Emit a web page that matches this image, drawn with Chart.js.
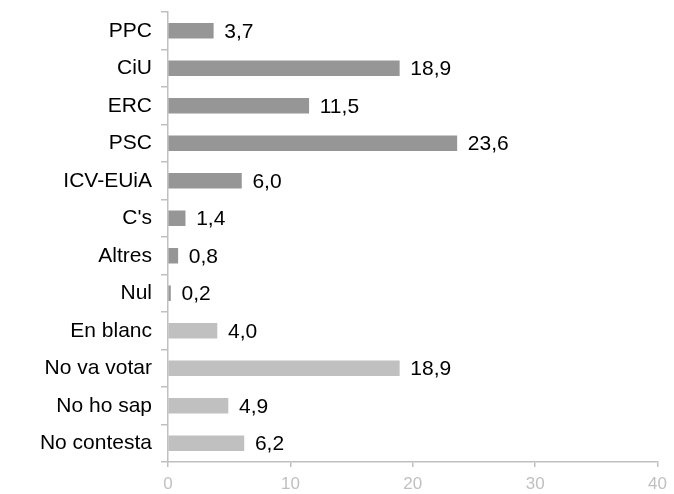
<!DOCTYPE html>
<html>
<head>
<meta charset="utf-8">
<script src="https://cdn.jsdelivr.net/npm/chart.js@4/dist/chart.umd.min.js"></script>
<style>
  html, body { margin:0; padding:0; background:#fff; }
  #wrap { width:674px; height:494px; }
</style>
</head>
<body>
<div id="wrap"><canvas id="chart"></canvas></div>
<script>
// categories (top to bottom)
const categories = ["PPC","CiU","ERC","PSC","ICV-EUiA","C's","Altres","Nul","En blanc","No va votar","No ho sap","No contesta"];
// percentages
const values = [3.7, 18.9, 11.5, 23.6, 6.0, 1.4, 0.8, 0.2, 4.0, 18.9, 4.9, 6.2];
// parties dark, the rest light
const barColors = ["#969696","#969696","#969696","#969696","#969696","#969696","#969696","#969696","#c0c0c0","#c0c0c0","#c0c0c0","#c0c0c0"];
const xTicks = [0, 10, 20, 30, 40];

const FONT = "'Liberation Sans', Arial, sans-serif";

// value labels right of bars, comma decimal
const valueLabels = {
  id: "valueLabels",
  afterDatasetsDraw(chart){
    const ctx = chart.ctx;
    const meta = chart.getDatasetMeta(0);
    ctx.save();
    ctx.font = "21px " + FONT;
    ctx.fillStyle = "#000";
    ctx.textBaseline = "middle";
    ctx.textAlign = "left";
    meta.data.forEach((bar, i)=>{
      ctx.fillText(values[i].toFixed(1).replace(".", ","), bar.x + 11, bar.y + 1);
    });
    ctx.restore();
  }
};

new Chart(document.getElementById("chart"), {
  type: "bar",
  data: {
    labels: categories,
    datasets: [{
      data: values,
      backgroundColor: barColors,
      barThickness: 15
    }]
  },
  options: {
    indexAxis: "y",
    responsive: true,
    maintainAspectRatio: false,
    animation: false,
    layout: { padding: { top: 0, right: 12, bottom: 0, left: 0 } },
    plugins: { legend: { display:false }, tooltip: { enabled:false } },
    scales: {
      x: {
        min: 0, max: 40,
        afterBuildTicks: s => { s.ticks = xTicks.map(v=>({value:v})); },
        afterFit: s => { s.height = 32; },
        grid: { drawOnChartArea:false, drawTicks:true, tickLength:5, color:"#c0c0c0", lineWidth:1.5 },
        border: { color:"#c0c0c0", width:1.5 },
        ticks: { color:"#c0c0c0", font:{ family:FONT, size:17 }, padding:7 }
      },
      y: {
        afterFit: s => { s.width = 168; s.paddingTop = 12; s.paddingBottom = 0; },
        grid: { offset:true, drawOnChartArea:false, drawTicks:true, tickLength:7, color:"#c0c0c0", lineWidth:1.5 },
        border: { color:"#c0c0c0", width:1.5 },
        ticks: { color:"#000", font:{ family:FONT, size:21 }, padding:9 }
      }
    }
  },
  plugins: [valueLabels]
});
</script>
</body>
</html>
